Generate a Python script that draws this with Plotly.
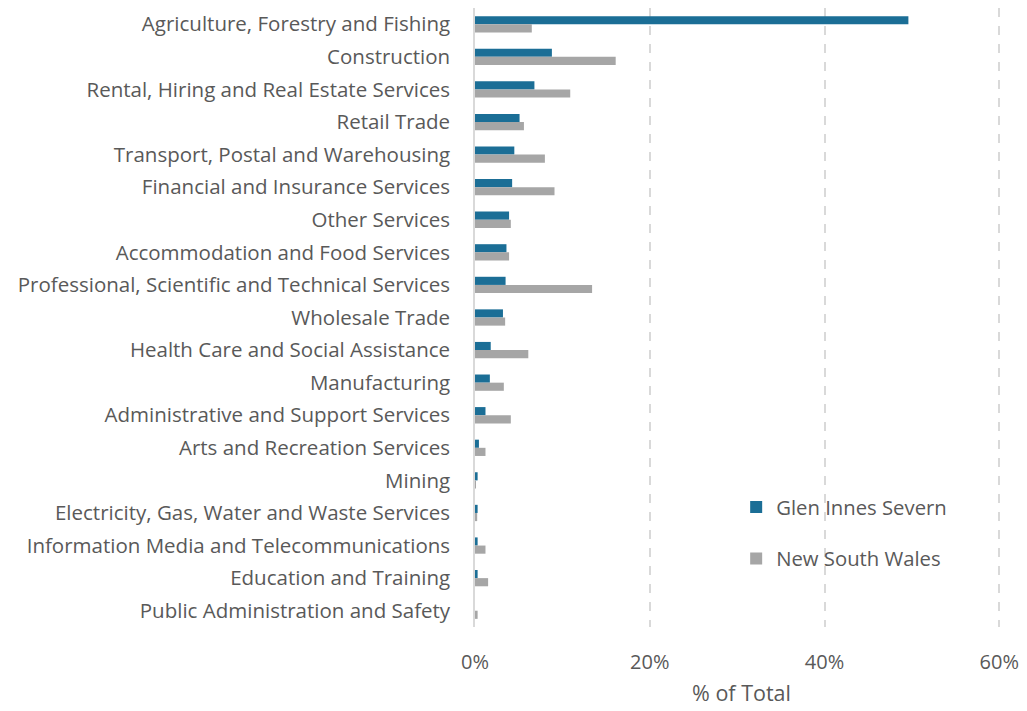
import plotly.graph_objects as go

# Industry categories (top to bottom)
industries = [
    "Agriculture, Forestry and Fishing",
    "Construction",
    "Rental, Hiring and Real Estate Services",
    "Retail Trade",
    "Transport, Postal and Warehousing",
    "Financial and Insurance Services",
    "Other Services",
    "Accommodation and Food Services",
    "Professional, Scientific and Technical Services",
    "Wholesale Trade",
    "Health Care and Social Assistance",
    "Manufacturing",
    "Administrative and Support Services",
    "Arts and Recreation Services",
    "Mining",
    "Electricity, Gas, Water and Waste Services",
    "Information Media and Telecommunications",
    "Education and Training",
    "Public Administration and Safety",
]

# Share of total businesses (%)
glen_innes = [49.6, 8.8, 6.8, 5.1, 4.5, 4.25, 3.9, 3.6, 3.5, 3.2, 1.8, 1.7, 1.2, 0.45, 0.3, 0.3, 0.3, 0.3, 0.0]
nsw = [6.5, 16.1, 10.9, 5.6, 8.0, 9.1, 4.1, 3.9, 13.4, 3.45, 6.1, 3.3, 4.1, 1.2, 0.1, 0.25, 1.2, 1.5, 0.3]

x_ticks = [0, 20, 40, 60]
x_tick_labels = ["0%", "20%", "40%", "60%"]

FONT = "'Open Sans', Lato, sans-serif"
TEXT = "#595959"

fig = go.Figure()
fig.add_trace(go.Bar(
    y=industries, x=glen_innes, orientation="h", name="Glen Innes Severn",
    marker=dict(color="#1b6e96", line=dict(width=0)), legendgroup="a",
))
fig.add_trace(go.Bar(
    y=industries, x=nsw, orientation="h", name="New South Wales",
    marker=dict(color="#a6a6a6", line=dict(width=0)), legendgroup="b",
))

fig.update_layout(
    width=1027, height=711,
    margin=dict(l=475, r=12, t=8, b=84),
    paper_bgcolor="white", plot_bgcolor="white",
    barmode="group", bargap=0.5, bargroupgap=0.0,
    font=dict(family=FONT, color=TEXT, size=20),
    showlegend=True,
    legend=dict(
        x=0.49, y=0.152, xanchor="left", yanchor="middle",
        font=dict(size=20.3, color=TEXT), tracegroupgap=22,
        bgcolor="rgba(0,0,0,0)", itemwidth=30,
    ),
    xaxis=dict(
        range=[0, 61], tickvals=x_ticks, ticktext=x_tick_labels,
        showgrid=True, gridcolor="#d9d9d9", gridwidth=1.5, griddash="dash",
        zeroline=False, showline=False, ticks="",
        tickfont=dict(size=20, color=TEXT), ticklabelstandoff=21,
        title=dict(text="% of Total", font=dict(size=21.5, color=TEXT), standoff=11),
    ),
    yaxis=dict(
        autorange="reversed", showgrid=False, zeroline=False,
        showline=True, linecolor="#d9d9d9", linewidth=1.5,
        ticks="", tickfont=dict(size=20.5, color=TEXT), ticklabelstandoff=19,
    ),
)

fig.write_html("out.html")
